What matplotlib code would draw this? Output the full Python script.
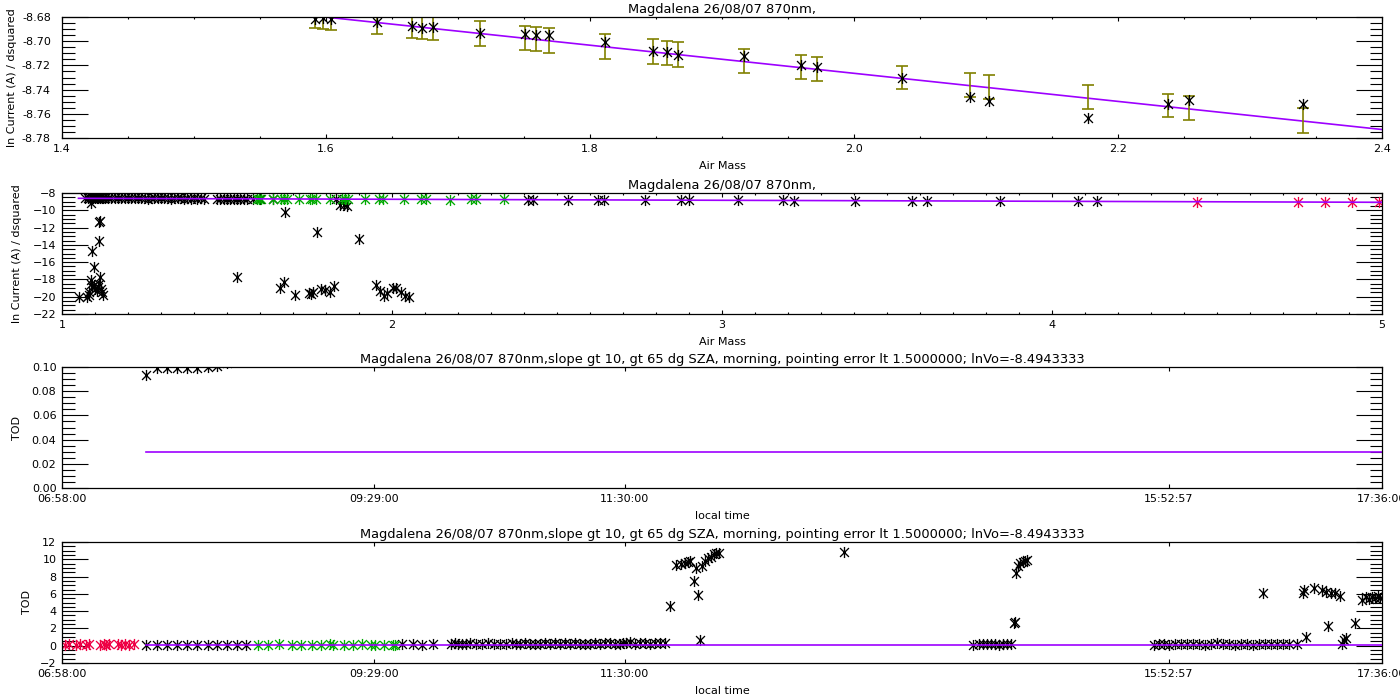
import numpy as np
import matplotlib
matplotlib.use('Agg')
import matplotlib.pyplot as plt
from matplotlib.path import Path
from matplotlib.ticker import MultipleLocator, FixedLocator

# textos
titulo_corto = 'Magdalena 26/08/07 870nm,'
titulo_largo = ('Magdalena 26/08/07 870nm,slope gt 10, gt 65 dg SZA, morning, '
                'pointing error lt 1.5000000; lnVo=-8.4943333')
etiqueta_ln = 'ln Current (A) / dsquared'

# recta de Langley
lnVo = -8.4943333
pendiente = -0.1161
am_recta = [1.05, 5.0]

# panel 1: puntos usados en el ajuste
am_fit = [1.592, 1.598, 1.604, 1.639, 1.665, 1.673, 1.681, 1.717, 1.751, 1.759,
          1.769, 1.811, 1.848, 1.858, 1.867, 1.917, 1.960, 1.972, 2.036, 2.088,
          2.102, 2.177, 2.238, 2.254, 2.340]
ln_fit = [-8.6814, -8.6812, -8.6813, -8.6844, -8.6877, -8.6890, -8.6883, -8.6933,
          -8.6938, -8.6952, -8.6952, -8.7010, -8.7085, -8.7093, -8.7112, -8.7119,
          -8.7193, -8.7215, -8.7303, -8.7460, -8.7496, -8.7633, -8.7518, -8.7490,
          -8.7515]
ln_centro = [-8.6788, -8.6796, -8.6803, -8.6843, -8.6875, -8.6881, -8.6890, -8.6935,
             -8.6973, -8.6982, -8.6996, -8.7044, -8.7086, -8.7098, -8.7112, -8.7163,
             -8.7212, -8.7228, -8.7303, -8.7361, -8.7379, -8.7464, -8.7534, -8.7553,
             -8.7654]
ln_error = [0.0103, 0.0102, 0.0103, 0.0098, 0.0099, 0.0100, 0.0100, 0.0102, 0.0100,
            0.0099, 0.0102, 0.0103, 0.0103, 0.0099, 0.0102, 0.0099, 0.0099, 0.0098,
            0.0096, 0.0099, 0.0098, 0.0100, 0.0096, 0.0102, 0.0103]

# panel 2: todos los puntos
am_negro = [1.07, 1.08, 1.085, 1.09, 1.095, 1.10, 1.105, 1.11, 1.115, 1.12, 1.125,
            1.13, 1.14, 1.15, 1.16, 1.17, 1.18, 1.19, 1.20, 1.21, 1.22, 1.23, 1.24,
            1.25, 1.26, 1.27, 1.28, 1.29, 1.30, 1.31, 1.32, 1.33, 1.34, 1.35, 1.36,
            1.37, 1.38, 1.39, 1.40, 1.41, 1.42, 1.43, 1.47, 1.48, 1.49, 1.50, 1.51,
            1.52, 1.53, 1.54, 1.55, 1.56, 1.58, 1.60, 1.64, 1.83,
            2.412, 2.427, 2.533, 2.624, 2.642, 2.767, 2.876, 2.900, 3.048, 3.185,
            3.218, 3.403, 3.576, 3.621, 3.842, 4.079, 4.136]
ln_negro = [-8.60, -8.58, -8.62, -8.55, -8.60, -8.63, -8.57, -8.61, -8.59, -8.62, -8.58,
            -8.60, -8.63, -8.58, -8.61, -8.59, -8.62, -8.60, -8.57, -8.63, -8.61, -8.59,
            -8.62, -8.60, -8.64, -8.58, -8.61, -8.63, -8.60, -8.62, -8.59, -8.64, -8.61,
            -8.63, -8.60, -8.65, -8.62, -8.64, -8.61, -8.66, -8.63, -8.65, -8.66, -8.64,
            -8.67, -8.65, -8.68, -8.66, -8.67, -8.69, -8.66, -8.68, -8.70, -8.69, -8.70,
            -8.71,
            -8.77, -8.78, -8.79, -8.80, -8.80, -8.81, -8.83, -8.83, -8.85, -8.86,
            -8.87, -8.89, -8.91, -8.91, -8.94, -8.97, -8.97]
am_bajo = [1.0525, 1.076, 1.081, 1.083, 1.087, 1.089, 1.091, 1.096, 1.101, 1.106,
           1.109, 1.113, 1.116, 1.119, 1.121, 1.123, 1.091, 1.096, 1.111, 1.113,
           1.114, 1.089, 1.530, 1.662, 1.672, 1.677, 1.707, 1.747, 1.755, 1.762,
           1.773, 1.786, 1.796, 1.813, 1.823, 1.843, 1.854, 1.864, 1.901, 1.952,
           1.965, 1.975, 1.985, 2.002, 2.012, 2.028, 2.040, 2.052]
ln_bajo = [-19.98, -20.00, -19.78, -19.40, -18.50, -18.05, -18.90, -18.70, -19.10, -19.30,
           -18.85, -18.50, -17.75, -19.10, -19.50, -19.80, -14.73, -16.52, -13.60, -11.40,
           -11.20, -9.20, -17.67, -19.00, -18.35, -10.20, -19.75, -19.60, -19.68, -19.50,
           -12.50, -19.13, -19.20, -19.40, -18.74, -9.34, -9.42, -9.46, -13.37, -18.60,
           -19.30, -19.90, -19.60, -19.00, -19.00, -19.50, -19.90, -20.00]
am_rojo = [4.439, 4.745, 4.827, 4.909, 4.991]
ln_rojo = [-9.01, -9.04, -9.05, -9.06, -9.07]

# paneles 3 y 4: TOD contra hora local (horas decimales)
hora_negro = [7.643, 7.731, 7.812, 7.892, 7.973, 8.053, 8.142, 8.214, 8.295, 8.375,
              8.448, 9.704, 9.792, 9.865, 9.953,
              10.098, 10.130, 10.155, 10.187, 10.219, 10.251, 10.300, 10.348, 10.396,
              10.444, 10.493, 10.541, 10.590, 10.621, 10.653, 10.694, 10.734, 10.774,
              10.815, 10.855, 10.895, 10.935, 10.975, 11.016, 11.056, 11.096, 11.136,
              11.177, 11.217, 11.257, 11.297, 11.338, 11.378, 11.418, 11.458, 11.483,
              11.507, 11.539, 11.579, 11.620, 11.660, 11.700, 11.740, 11.780, 11.821,
              11.861, 11.910, 11.950, 11.982, 12.006, 12.022, 12.054, 12.070, 12.094,
              12.110, 12.119, 12.143, 12.167, 12.191, 12.215, 12.231, 12.256, 13.270,
              14.308, 14.356, 14.389, 14.421, 14.453, 14.485, 14.518, 14.550, 14.582,
              14.614, 14.639, 14.647, 14.655, 14.671, 14.687, 14.711, 14.727, 14.743,
              15.765, 15.805, 15.845, 15.886, 15.934, 15.982, 16.031, 16.079, 16.127,
              16.176, 16.224, 16.272, 16.321, 16.369, 16.417, 16.466, 16.514, 16.562,
              16.610, 16.659, 16.707, 16.755, 16.804, 16.852, 16.916, 16.643, 16.965,
              16.973, 16.989, 17.053, 17.118, 17.150, 17.166, 17.190, 17.222, 17.263,
              17.279, 17.295, 17.311, 17.383, 17.440, 17.472, 17.496, 17.520, 17.545,
              17.569, 17.585]
tod_negro = [0.0935, 0.0991, 0.0991, 0.0991, 0.0991, 0.0991, 0.1000, 0.1005, 0.1030, 0.1080,
             0.1120, 0.15, 0.18, 0.14, 0.16,
             0.22, 0.30, 0.18, 0.25, 0.15, 0.28, 0.20, 0.17, 0.26,
             0.19, 0.23, 0.16, 0.29, 0.21, 0.18, 0.27, 0.22, 0.15,
             0.24, 0.31, 0.19, 0.26, 0.20, 0.28, 0.17, 0.33, 0.22,
             0.25, 0.18, 0.30, 0.21, 0.27, 0.35, 0.23, 0.19, 0.32,
             0.26, 0.38, 0.22, 0.29, 0.34, 0.25, 0.31, 0.27, 0.36,
             4.64, 9.30, 9.40, 9.55, 9.70, 9.75, 7.43, 8.97, 5.90,
             0.70, 9.25, 9.75, 10.10, 10.30, 10.60, 10.70, 10.75, 10.90,
             0.14, 0.18, 0.15, 0.22, 0.15, 0.19, 0.13, 0.24, 0.17,
             0.20, 2.60, 2.80, 8.40, 9.20, 9.55, 9.70, 9.75, 9.94,
             0.14, 0.21, 0.17, 0.13, 0.25, 0.19, 0.15, 0.23, 0.18,
             0.13, 0.20, 0.26, 0.16, 0.22, 0.14, 0.19, 0.24, 0.14,
             0.21, 0.17, 0.25, 0.15, 0.20, 0.23, 0.18, 6.07, 6.07,
             6.46, 1.04, 6.65, 6.46, 6.27, 2.32, 6.07, 6.07, 5.76,
             0.16, 0.66, 0.85, 2.60, 5.30, 5.69, 5.40, 5.60, 5.50,
             5.70, 5.50]
hora_rojo = [6.988, 7.025, 7.079, 7.115, 7.157, 7.186, 7.276, 7.302, 7.323, 7.348,
             7.420, 7.445, 7.474, 7.510, 7.545]
tod_rojo = [0.12, 0.15, 0.11, 0.18, 0.14, 0.16, 0.13, 0.19, 0.12, 0.17,
            0.15, 0.11, 0.18, 0.14, 0.16]
hora_verde = [8.545, 8.625, 8.713, 8.818, 8.891, 8.979, 9.052, 9.124, 9.148, 9.237,
              9.309, 9.382, 9.454, 9.486, 9.559, 9.631, 9.647]
tod_verde = [0.13, 0.10, 0.15, 0.12, 0.09, 0.14, 0.11, 0.16, 0.12, 0.10,
             0.13, 0.15, 0.11, 0.14, 0.12, 0.10, 0.13]
tod_media = 0.030
hora_media = [7.643, 17.6]

horas_marcas = [6.9667, 9.4833, 11.5, 15.8825, 17.6]
etiquetas_horas = ['06:58:00', '09:29:00', '11:30:00', '15:52:57', '17:36:00']

# estilo
violeta = '#9d00ff'
oliva = '#808000'
verde = '#00aa00'
rojo = '#ee0044'
plt.rcParams['font.family'] = ['DejaVu Sans']
plt.rcParams['font.size'] = 8

# asterisco tipo IDL (psym=2)
asterisco = Path([(0, -1), (0, 1), (-0.8, -0.8), (0.8, 0.8), (-0.8, 0.8), (0.8, -0.8)],
                 [Path.MOVETO, Path.LINETO, Path.MOVETO, Path.LINETO,
                  Path.MOVETO, Path.LINETO])
marca = dict(linestyle='none', marker=asterisco, ms=8, mew=0.95)


def estilo_idl(ax, titulo, xlab, ylab, ylab_x):
    ax.set_title(titulo, fontsize=9.4, pad=3)
    ax.set_xlabel(xlab)
    ax.set_ylabel(ylab)
    ax.xaxis.set_label_coords(0.5, -0.19)
    ax.yaxis.set_label_coords(ylab_x, 0.5)
    ax.tick_params(axis='both', which='both', direction='in',
                   top=True, right=True, width=0.8)
    ax.tick_params(axis='y', which='major', length=19, pad=4)
    ax.tick_params(axis='y', which='minor', length=9)
    ax.tick_params(axis='x', which='major', length=3, pad=4)
    ax.tick_params(axis='x', which='minor', length=1.5)
    for lado in ax.spines.values():
        lado.set_linewidth(0.9)


fig = plt.figure(figsize=(14, 7), dpi=100)
izq, ancho, alto = 62 / 1400, 1320 / 1400, 121 / 700

recta_x = np.array(am_recta)
recta_y = lnVo + pendiente * recta_x

# panel 1
ax1 = fig.add_axes([izq, 1 - 138 / 700, ancho, alto])
ax1.plot(recta_x, recta_y, color=violeta, lw=1.2)
ax1.errorbar(am_fit, ln_centro, yerr=ln_error, fmt='none', ecolor=oliva,
             elinewidth=1.2, capsize=4.5, capthick=1.2)
ax1.plot(am_fit, ln_fit, mec='k', **marca)
ax1.set_xlim(1.4, 2.4)
ax1.set_ylim(-8.78, -8.68)
ax1.xaxis.set_major_locator(MultipleLocator(0.2))
ax1.xaxis.set_minor_locator(MultipleLocator(0.05))
ax1.yaxis.set_major_locator(MultipleLocator(0.02))
ax1.yaxis.set_minor_locator(MultipleLocator(0.005))
ax1.yaxis.set_major_formatter(plt.FormatStrFormatter('%.2f'))
estilo_idl(ax1, titulo_corto, 'Air Mass', etiqueta_ln, -0.034)
ax1.tick_params(axis='y', which='major', pad=8)

# panel 2
ax2 = fig.add_axes([izq, 1 - 314 / 700, ancho, alto])
ax2.plot(recta_x, recta_y, color=violeta, lw=1.2, zorder=3)
ax2.plot(am_negro, ln_negro, mec='k', **marca)
ax2.plot(am_bajo, ln_bajo, mec='k', **marca)
ax2.plot(am_fit, ln_fit, mec=verde, **marca)
ax2.plot(am_rojo, ln_rojo, mec=rojo, **marca)
ax2.set_xlim(1, 5)
ax2.set_ylim(-22, -8)
ax2.xaxis.set_major_locator(MultipleLocator(1))
ax2.xaxis.set_minor_locator(MultipleLocator(0.1))
ax2.yaxis.set_major_locator(MultipleLocator(2))
ax2.yaxis.set_minor_locator(MultipleLocator(0.5))
estilo_idl(ax2, titulo_corto, 'Air Mass', etiqueta_ln, -0.03)

# panel 3
ax3 = fig.add_axes([izq, 1 - 488 / 700, ancho, alto])
ax3.plot(hora_media, [tod_media, tod_media], color=violeta, lw=1.2)
ax3.plot(hora_negro, tod_negro, mec='k', **marca)
ax3.set_xlim(horas_marcas[0], horas_marcas[-1])
ax3.set_ylim(0, 0.10)
ax3.xaxis.set_major_locator(FixedLocator(horas_marcas))
ax3.set_xticklabels(etiquetas_horas)
ax3.yaxis.set_major_locator(MultipleLocator(0.02))
ax3.yaxis.set_minor_locator(MultipleLocator(0.005))
ax3.yaxis.set_major_formatter(plt.FormatStrFormatter('%.2f'))
estilo_idl(ax3, titulo_largo, 'local time', 'TOD', -0.03)

# panel 4
ax4 = fig.add_axes([izq, 1 - 663 / 700, ancho, alto])
ax4.plot(hora_media, [tod_media, tod_media], color=violeta, lw=1.2, zorder=3)
ax4.plot(hora_negro, tod_negro, mec='k', **marca)
ax4.plot(hora_rojo, tod_rojo, mec=rojo, **marca)
ax4.plot(hora_verde, tod_verde, mec=verde, **marca)
ax4.set_xlim(horas_marcas[0], horas_marcas[-1])
ax4.set_ylim(-2, 12)
ax4.xaxis.set_major_locator(FixedLocator(horas_marcas))
ax4.set_xticklabels(etiquetas_horas)
ax4.yaxis.set_major_locator(MultipleLocator(2))
ax4.yaxis.set_minor_locator(MultipleLocator(0.5))
estilo_idl(ax4, titulo_largo, 'local time', 'TOD', -0.023)

fig.savefig('out.png', dpi=100)
